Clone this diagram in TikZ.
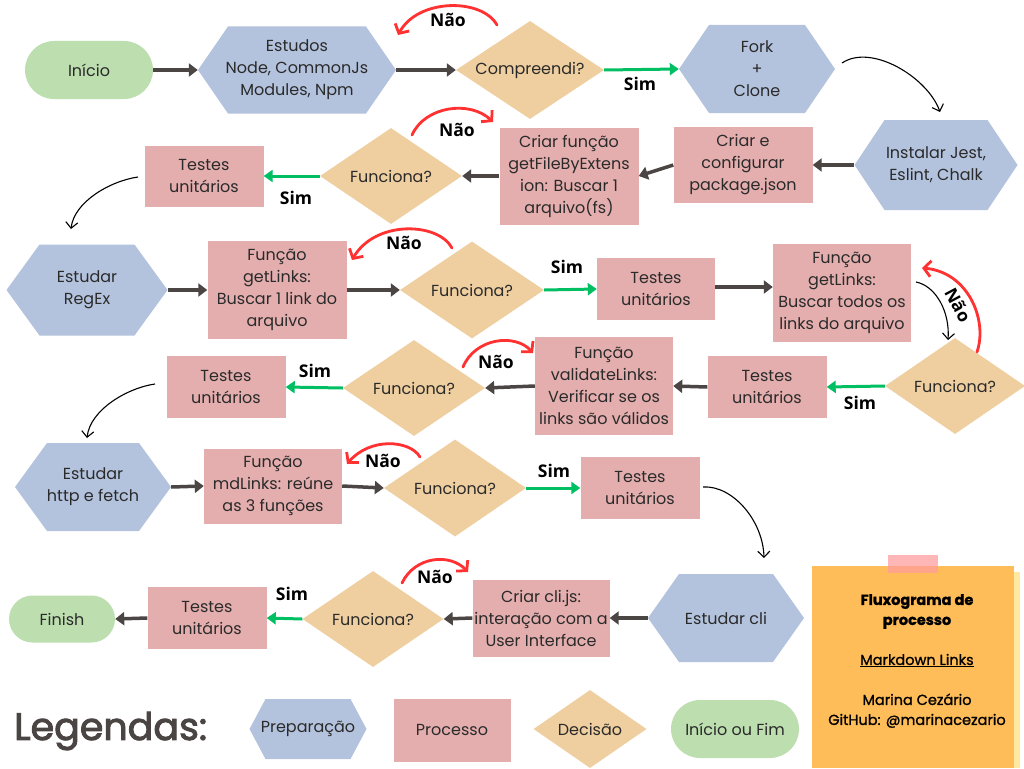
\documentclass[tikz,border=0pt]{standalone}
\usepackage{fontspec}
\setmainfont{Poppins}
\newfontfamily\labelfont{Open Sans}
\newfontfamily\mediumfont[FakeBold=2.5]{Poppins}
\newfontfamily\notefont[FakeBold=1.2]{Poppins}
\usetikzlibrary{arrows.meta,shapes.geometric,calc}

\definecolor{prepblue}{HTML}{B4C3DD}
\definecolor{procpink}{HTML}{E4AEAE}
\definecolor{decbeige}{HTML}{EFCFA0}
\definecolor{termgreen}{HTML}{BDDFB0}
\definecolor{flowgray}{HTML}{4B4644}
\definecolor{simgreen}{HTML}{00BF63}
\definecolor{naored}{HTML}{FF3131}
\definecolor{ink}{HTML}{2A2A2A}
\definecolor{legendgray}{HTML}{4A4543}
\definecolor{noteorange}{HTML}{FFBD59}
\definecolor{notepale}{HTML}{FFE9A0}
\definecolor{tapepink}{HTML}{FF9E9E}

\begin{document}
\begin{tikzpicture}[x=1pt,y=-1pt,
  sz/.style 2 args={minimum width=#1pt, minimum height=#2pt},
  base/.style={align=center, text=ink, font=\fontsize{16}{22}\selectfont, inner sep=0pt},
  proc/.style={base, rectangle, fill=procpink},
  dec/.style={base, diamond, aspect=1.5, fill=decbeige},
  term/.style={base, rectangle, fill=termgreen, rounded corners=#1},
  hexa/.style={base, rectangle, path picture={
      \fill[prepblue] (path picture bounding box.west)
        -- ([xshift=#1]path picture bounding box.north west)
        -- ([xshift=-#1]path picture bounding box.north east)
        -- (path picture bounding box.east)
        -- ([xshift=-#1]path picture bounding box.south east)
        -- ([xshift=#1]path picture bounding box.south west) -- cycle;}},
  hexa/.default=31pt,
  lab/.style={font={\labelfont\bfseries\fontsize{17.5}{20}\selectfont}, text=black, inner sep=0pt},
  flow/.style={draw=flowgray, line width=3.5pt, -{Triangle[length=9pt,width=13pt]}},
  yes/.style={draw=simgreen, line width=3pt, -{Triangle[length=9pt,width=12pt]}},
  no/.style={draw=naored, line width=2.8pt, line cap=round, -{Straight Barb[length=7pt,width=16pt]}},
  next/.style={draw=black, line width=1.1pt, -{Straight Barb[length=6pt,width=12pt]}}]

\clip (0,0) rectangle (1024,768);
\fill[white] (0,0) rectangle (1024,768);

% ---------- row 1 ----------
\node[term=29pt, sz={128}{58}] (inicio) at (89,70) {Início};
\node[hexa=30pt, sz={198}{87}] (estudos) at (297,70) {Estudos\\Node, CommonJs\\Modules, Npm};
\node[dec, sz={148}{98}] (compreendi) at (530,70) {Compreendi?};
\node[hexa=30pt, sz={156}{88}] (fork) at (757,69) {Fork\\+\\Clone};

% ---------- row 2 ----------
\node[hexa=30pt, sz={163}{90}] (instalar) at (936,165) {Instalar Jest,\\Eslint, Chalk};
\node[proc, sz={139}{76}] (config) at (743,165) {Criar e\\configurar\\package.json};
\node[proc, sz={139}{97}] (getfile) at (569,176) {Criar função\\getFileByExtens\\ion: Buscar 1\\arquivo(fs)};
\node[dec, sz={142}{96}] (f1) at (391,176) {Funciona?};
\node[proc, sz={119}{61}] (t1) at (204,176) {Testes\\unitários};

% ---------- row 3 ----------
\node[hexa=33pt, sz={161}{91}] (regex) at (87,290) {Estudar\\RegEx};
\node[proc, sz={139}{98}] (getlinks1) at (277,290) {Função\\getLinks:\\Buscar 1 link do\\arquivo};
\node[dec, sz={144}{97}] (f2) at (472,290) {Funciona?};
\node[proc, sz={118}{62}] (t2) at (656,289) {Testes\\unitários};
\node[proc, sz={138}{98}] (getlinksall) at (842,293) {Função\\getLinks:\\Buscar todos os\\links do arquivo};

% ---------- row 4 ----------
\node[dec, sz={140}{96}] (f3) at (955,386) {Funciona?};
\node[proc, sz={119}{62}] (t3) at (767,387) {Testes\\unitários};
\node[proc, sz={138}{98}] (validate) at (604,386) {Função\\validateLinks:\\Verificar se os\\links são válidos};
\node[dec, sz={142}{96}] (f4) at (414,388) {Funciona?};
\node[proc, sz={119}{62}] (t4) at (226,387) {Testes\\unitários};

% ---------- row 5 ----------
\node[hexa=32pt, sz={156}{88}] (http) at (93,487) {Estudar\\http e fetch};
\node[proc, sz={138}{75}] (mdlinks) at (273,486) {Função\\mdLinks: reúne\\as 3 funções};
\node[dec, sz={142}{97}] (f5) at (455,488) {Funciona?};
\node[proc, sz={119}{62}] (t5) at (640,488) {Testes\\unitários};

% ---------- row 6 ----------
\node[hexa=31pt, sz={156}{88}] (cli) at (726,618) {Estudar cli};
\node[proc, sz={137}{77}] (clijs) at (541,618) {Criar cli.js:\\interação com a\\User Interface};
\node[dec, sz={141}{96}] (f6) at (373,619) {Funciona?};
\node[proc, sz={119}{62}] (t6) at (207,618) {Testes\\unitários};
\node[term=23.5pt, sz={106}{47}] (finish) at (62,619) {Finish};

% ---------- legend ----------
\node[anchor=west, inner sep=0pt, text=legendgray, font=\mediumfont\fontsize{38}{40}\selectfont] (legendas) at (14,731) {Legendas:};
\node[hexa=16pt, sz={117}{60}] (lprep) at (308,729) {Preparação};
\node[proc, sz={117}{63}] (lproc) at (452,730) {Processo};
\node[dec, sz={113}{78}] (ldec) at (590,729) {Decisão};
\node[term=29pt, sz={128}{58}] (lfim) at (735,729) {Início ou Fim};

% ---------- sticky note ----------
\fill[notepale] (1010,572) rectangle (1020,768);
\fill[noteorange] (812,566) rectangle (1014,768);
\fill[tapepink, opacity=.75] (888,555) rectangle (938,573);
\node[align=center, inner sep=0pt, text=black, font=\notefont\fontsize{14.5}{20}\selectfont] (note) at (917,661)
  {\textbf{Fluxograma de}\\\textbf{processo}\\[20pt]\underline{Markdown Links}\\[20pt]Marina Cezário\\GitHub: @marinacezario};

% ---------- main flow ----------
\draw[flow] (inicio.east) -- (estudos.west);
\draw[flow] (estudos.east) -- (compreendi.west);
\draw[yes] (compreendi.east) -- (fork.west);
\draw[flow] (instalar.west) -- (config.east);
\draw[flow] (config.west) -- (getfile.east);
\draw[flow] (getfile.west) -- (f1.east);
\draw[yes] (f1.west) -- (t1.east);
\draw[flow] (regex.east) -- (getlinks1.west);
\draw[flow] (getlinks1.east) -- (f2.west);
\draw[yes] (f2.east) -- (t2.west);
\draw[flow] ([yshift=2pt]t2.east) -- ([yshift=2pt]t2.east -| getlinksall.west);
\draw[yes] (f3.west) -- (t3.east);
\draw[flow] (t3.west) -- (validate.east);
\draw[flow] (validate.west) -- (f4.east);
\draw[yes] (f4.west) -- (t4.east);
\draw[flow] (http.east) -- (mdlinks.west);
\draw[flow] (mdlinks.east) -- (f5.west);
\draw[yes] (f5.east) -- (t5.west);
\draw[flow] (cli.west) -- (clijs.east);
\draw[flow] (clijs.west) -- (f6.east);
\draw[yes] (f6.west) -- (t6.east);
\draw[flow] (t6.west) -- (finish.east);

% ---------- hand-drawn links between rows ----------
\coordinate (forkout) at (842,63);   \coordinate (instin) at (940,112);
\coordinate (t1out) at (138,177);    \coordinate (regexin) at (71,229);
\coordinate (allout) at (916,282);   \coordinate (f3in) at (948,340);
\coordinate (t4out) at (155,384);    \coordinate (httpin) at (87,438);
\coordinate (t5out) at (703,487);    \coordinate (cliin) at (764,558);
\draw[next] (forkout) .. controls (872,43) and (928,78) .. (instin);
\draw[next] (t1out) .. controls (110,181) and (74,202) .. (regexin);
\draw[next] (allout) .. controls (936,286) and (950,312) .. (f3in);
\draw[next] (t4out) .. controls (127,388) and (90,410) .. (httpin);
\draw[next] (t5out) .. controls (732,485) and (763,520) .. (cliin);

% ---------- "Não" loops ----------
\coordinate (n1s) at (497,25);  \coordinate (n1e) at (398,35);
\coordinate (n2s) at (412,135); \coordinate (n2e) at (493,122);
\coordinate (n3s) at (452,248); \coordinate (n3e) at (352,260);
\coordinate (n4s) at (977,352); \coordinate (n4e) at (922,268);
\coordinate (n5s) at (463,367); \coordinate (n5e) at (533,353);
\coordinate (n6s) at (420,457); \coordinate (n6e) at (347,464);
\coordinate (n7s) at (402,583); \coordinate (n7e) at (468,572);
\draw[no] (n1s) .. controls (482,-2) and (418,-2) .. (n1e);
\draw[no] (n2s) .. controls (425,106) and (470,100) .. (n2e);
\draw[no] (n3s) .. controls (438,222) and (375,220) .. (n3e);
\draw[no] (n4s) .. controls (988,320) and (968,272) .. (n4e);
\draw[no] (n5s) .. controls (475,338) and (515,333) .. (n5e);
\draw[no] (n6s) .. controls (410,440) and (370,437) .. (n6e);
\draw[no] (n7s) .. controls (415,556) and (450,553) .. (n7e);

% ---------- answer labels ----------
\node[lab] (nao1) at (448,20) {Não};
\node[lab] (sim1) at (640,84) {Sim};
\node[lab] (nao2) at (457,130) {Não};
\node[lab] (sim2) at (296,198) {Sim};
\node[lab] (nao3) at (404,243) {Não};
\node[lab] (sim3) at (567,267) {Sim};
\node[lab, rotate=-62] (nao4) at (958,305) {Não};
\node[lab] (sim4) at (860,403) {Sim};
\node[lab] (nao5) at (496,362) {Não};
\node[lab] (sim5) at (315,371) {Sim};
\node[lab] (nao6) at (383,461) {Não};
\node[lab] (sim6) at (554,471) {Sim};
\node[lab] (nao7) at (435,577) {Não};
\node[lab] (sim7) at (292,594) {Sim};
\end{tikzpicture}
\end{document}
